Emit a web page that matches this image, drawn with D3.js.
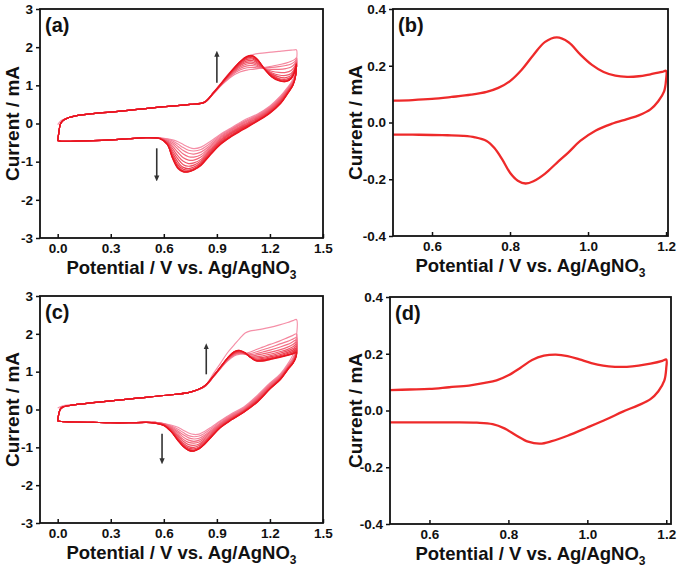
<!DOCTYPE html>
<html>
<head>
<meta charset="utf-8">
<script src="https://cdn.jsdelivr.net/npm/d3@7"></script>
<style>
  html, body { margin: 0; padding: 0; background: #fff; }
  svg { display: block; }
  text { font-family: "Liberation Sans", Arial, sans-serif; font-weight: bold; fill: #111; }
</style>
</head>
<body>
<svg id="chart" width="678" height="569"></svg>
<script>
// ---------------- DATA ----------------
// Panel (a): multi-cycle CV
const aTicksX = [0.0, 0.3, 0.6, 0.9, 1.2, 1.5];
const aTicksY = [-3, -2, -1, 0, 1, 2, 3];
const aUpperBase = [[0.0,-0.46],[0.006,-0.25],[0.015,-0.02],[0.03,0.08],[0.06,0.15],[0.10,0.20],[0.20,0.26],[0.30,0.30],[0.45,0.37],[0.60,0.44],[0.75,0.50]];
const aFirstStart = [[0.0,-0.03],[0.02,0.08],[0.06,0.15]];
const aLowerBase = [[0.50,-0.37],[0.40,-0.40],[0.30,-0.43],[0.20,-0.45],[0.10,-0.46],[0.04,-0.47],[0.01,-0.46],[0.0,-0.44]];
const aFwdX = [0.83, 0.88, 0.93, 0.98, 1.03, 1.07, 1.10, 1.13, 1.17, 1.21, 1.25, 1.29, 1.32, 1.34, 1.35];
const aFwdY = [
  [0.56, 0.82, 1.10, 1.38, 1.60, 1.74, 1.80, 1.83, 1.85, 1.87, 1.89, 1.91, 1.92, 1.93, 1.93],
  [0.55, 0.78, 1.02, 1.22, 1.35, 1.40, 1.42, 1.44, 1.47, 1.50, 1.54, 1.58, 1.63, 1.68, 1.72],
  [0.55, 0.78, 1.03, 1.25, 1.40, 1.46, 1.47, 1.46, 1.46, 1.47, 1.49, 1.52, 1.56, 1.62, 1.68],
  [0.55, 0.79, 1.04, 1.27, 1.44, 1.51, 1.52, 1.49, 1.44, 1.42, 1.42, 1.44, 1.48, 1.56, 1.64],
  [0.55, 0.79, 1.05, 1.29, 1.48, 1.56, 1.57, 1.52, 1.43, 1.37, 1.34, 1.34, 1.39, 1.50, 1.61],
  [0.55, 0.79, 1.05, 1.30, 1.51, 1.60, 1.61, 1.55, 1.43, 1.33, 1.27, 1.26, 1.31, 1.45, 1.59],
  [0.56, 0.80, 1.06, 1.32, 1.54, 1.64, 1.65, 1.58, 1.43, 1.30, 1.22, 1.20, 1.26, 1.42, 1.58],
  [0.56, 0.80, 1.06, 1.33, 1.56, 1.68, 1.69, 1.61, 1.43, 1.28, 1.18, 1.16, 1.22, 1.40, 1.57],
  [0.56, 0.80, 1.07, 1.34, 1.58, 1.71, 1.72, 1.64, 1.43, 1.26, 1.16, 1.13, 1.20, 1.38, 1.56],
  [0.56, 0.80, 1.07, 1.35, 1.60, 1.73, 1.75, 1.66, 1.43, 1.24, 1.14, 1.11, 1.18, 1.37, 1.56],
  [0.56, 0.80, 1.08, 1.36, 1.61, 1.75, 1.77, 1.67, 1.42, 1.23, 1.13, 1.10, 1.18, 1.36, 1.55],
  [0.56, 0.80, 1.08, 1.36, 1.62, 1.76, 1.78, 1.68, 1.42, 1.22, 1.12, 1.10, 1.18, 1.35, 1.55]
];
const aRevX = [1.35, 1.345, 1.33, 1.30, 1.26, 1.20, 1.13, 1.05, 0.98, 0.92, 0.86, 0.81, 0.77, 0.74, 0.71, 0.68, 0.65, 0.62, 0.58];
const aRevY = [
  [1.93, 1.45, 1.15, 0.95, 0.72, 0.46, 0.25, 0.08, -0.12, -0.28, -0.48, -0.62, -0.66, -0.62, -0.55, -0.48, -0.43, -0.40, -0.38],
  [1.72, 1.35, 1.12, 0.93, 0.70, 0.44, 0.23, 0.05, -0.14, -0.31, -0.53, -0.68, -0.72, -0.70, -0.63, -0.54, -0.46, -0.41, -0.38],
  [1.68, 1.32, 1.10, 0.91, 0.68, 0.42, 0.21, 0.03, -0.16, -0.34, -0.58, -0.75, -0.80, -0.78, -0.71, -0.60, -0.50, -0.43, -0.38],
  [1.64, 1.30, 1.08, 0.89, 0.66, 0.40, 0.19, 0.01, -0.18, -0.37, -0.62, -0.82, -0.88, -0.87, -0.80, -0.67, -0.54, -0.45, -0.39],
  [1.61, 1.29, 1.06, 0.87, 0.64, 0.38, 0.17, -0.02, -0.21, -0.40, -0.66, -0.88, -0.96, -0.96, -0.90, -0.76, -0.60, -0.47, -0.39],
  [1.59, 1.28, 1.05, 0.85, 0.62, 0.36, 0.15, -0.04, -0.23, -0.43, -0.70, -0.94, -1.03, -1.05, -0.99, -0.85, -0.66, -0.49, -0.39],
  [1.58, 1.27, 1.04, 0.84, 0.60, 0.34, 0.13, -0.06, -0.25, -0.45, -0.73, -0.98, -1.09, -1.12, -1.08, -0.93, -0.72, -0.51, -0.39],
  [1.57, 1.26, 1.03, 0.82, 0.58, 0.32, 0.11, -0.08, -0.27, -0.48, -0.76, -1.02, -1.14, -1.18, -1.15, -1.01, -0.78, -0.52, -0.40],
  [1.56, 1.26, 1.02, 0.81, 0.56, 0.30, 0.09, -0.10, -0.30, -0.50, -0.79, -1.05, -1.18, -1.22, -1.20, -1.08, -0.84, -0.54, -0.40],
  [1.56, 1.25, 1.01, 0.80, 0.54, 0.29, 0.08, -0.12, -0.32, -0.52, -0.81, -1.07, -1.20, -1.25, -1.24, -1.13, -0.88, -0.55, -0.40],
  [1.55, 1.25, 1.00, 0.79, 0.53, 0.28, 0.07, -0.14, -0.34, -0.54, -0.83, -1.09, -1.21, -1.26, -1.26, -1.16, -0.91, -0.55, -0.40],
  [1.55, 1.25, 1.00, 0.78, 0.52, 0.27, 0.06, -0.16, -0.35, -0.55, -0.84, -1.10, -1.22, -1.27, -1.27, -1.18, -0.92, -0.55, -0.40]
];
const aArrows = [[0.90, 1.07, 1.83], [0.56, -0.65, -1.44]];

// Panel (c): multi-cycle CV
const cTicksX = [0.0, 0.3, 0.6, 0.9, 1.2, 1.5];
const cTicksY = [-3, -2, -1, 0, 1, 2, 3];
const cUpperBase = [[0.0,-0.30],[0.006,-0.12],[0.015,0.01],[0.03,0.07],[0.06,0.10],[0.10,0.13],[0.20,0.18],[0.30,0.23],[0.45,0.30],[0.60,0.37],[0.75,0.46]];
const cFirstStart = [[0.0,0.04],[0.03,0.10],[0.06,0.12]];
const cLowerBase = [[0.50,-0.34],[0.40,-0.35],[0.30,-0.35],[0.20,-0.34],[0.10,-0.33],[0.04,-0.32],[0.01,-0.31],[0.0,-0.30]];
const cFwdX = [0.83, 0.88, 0.92, 0.96, 1.00, 1.03, 1.06, 1.09, 1.12, 1.16, 1.20, 1.25, 1.30, 1.33, 1.35];
const cFwdY = [
  [0.62, 0.95, 1.22, 1.50, 1.72, 1.88, 2.02, 2.08, 2.10, 2.13, 2.17, 2.23, 2.30, 2.35, 2.38],
  [0.60, 0.86, 1.08, 1.28, 1.42, 1.46, 1.48, 1.52, 1.58, 1.65, 1.72, 1.80, 1.90, 1.96, 2.00],
  [0.60, 0.86, 1.09, 1.30, 1.44, 1.48, 1.47, 1.48, 1.52, 1.58, 1.64, 1.72, 1.80, 1.86, 1.90],
  [0.61, 0.87, 1.09, 1.31, 1.46, 1.49, 1.47, 1.45, 1.47, 1.52, 1.57, 1.64, 1.72, 1.79, 1.84],
  [0.61, 0.87, 1.10, 1.32, 1.47, 1.50, 1.47, 1.42, 1.43, 1.47, 1.51, 1.57, 1.65, 1.72, 1.78],
  [0.61, 0.87, 1.10, 1.33, 1.48, 1.51, 1.47, 1.40, 1.39, 1.42, 1.46, 1.52, 1.59, 1.66, 1.72],
  [0.61, 0.87, 1.11, 1.34, 1.49, 1.52, 1.48, 1.39, 1.36, 1.38, 1.42, 1.48, 1.55, 1.61, 1.67],
  [0.62, 0.88, 1.11, 1.34, 1.50, 1.53, 1.48, 1.38, 1.33, 1.35, 1.39, 1.44, 1.51, 1.57, 1.62],
  [0.62, 0.88, 1.11, 1.35, 1.51, 1.54, 1.49, 1.38, 1.31, 1.32, 1.36, 1.41, 1.48, 1.53, 1.58],
  [0.62, 0.88, 1.12, 1.35, 1.52, 1.55, 1.49, 1.38, 1.30, 1.30, 1.34, 1.39, 1.45, 1.50, 1.55],
  [0.62, 0.88, 1.12, 1.36, 1.53, 1.56, 1.50, 1.38, 1.29, 1.29, 1.33, 1.38, 1.44, 1.48, 1.52],
  [0.62, 0.88, 1.12, 1.36, 1.53, 1.56, 1.50, 1.38, 1.29, 1.28, 1.32, 1.37, 1.43, 1.47, 1.50]
];
const cRevX = [1.35, 1.345, 1.33, 1.30, 1.26, 1.20, 1.13, 1.05, 0.98, 0.92, 0.87, 0.83, 0.80, 0.77, 0.74, 0.71, 0.68, 0.64, 0.60, 0.55];
const cRevY = [
  [2.38, 1.75, 1.45, 1.20, 0.95, 0.70, 0.38, 0.06, -0.12, -0.30, -0.46, -0.58, -0.65, -0.66, -0.62, -0.55, -0.47, -0.41, -0.37, -0.34],
  [2.00, 1.55, 1.36, 1.16, 0.92, 0.68, 0.36, 0.04, -0.14, -0.32, -0.50, -0.63, -0.70, -0.72, -0.69, -0.61, -0.52, -0.43, -0.37, -0.34],
  [1.90, 1.50, 1.33, 1.14, 0.90, 0.66, 0.34, 0.02, -0.16, -0.35, -0.54, -0.68, -0.76, -0.78, -0.75, -0.67, -0.57, -0.45, -0.38, -0.34],
  [1.84, 1.47, 1.31, 1.12, 0.88, 0.64, 0.32, 0.00, -0.18, -0.37, -0.57, -0.72, -0.81, -0.84, -0.81, -0.73, -0.61, -0.47, -0.38, -0.34],
  [1.78, 1.45, 1.29, 1.11, 0.87, 0.62, 0.30, -0.02, -0.20, -0.39, -0.60, -0.76, -0.86, -0.89, -0.87, -0.79, -0.66, -0.49, -0.39, -0.34],
  [1.72, 1.42, 1.27, 1.10, 0.85, 0.60, 0.28, -0.03, -0.22, -0.41, -0.63, -0.80, -0.91, -0.95, -0.93, -0.84, -0.70, -0.51, -0.40, -0.35],
  [1.67, 1.40, 1.26, 1.09, 0.84, 0.58, 0.26, -0.04, -0.23, -0.43, -0.66, -0.84, -0.95, -1.00, -0.98, -0.89, -0.74, -0.53, -0.40, -0.35],
  [1.62, 1.39, 1.25, 1.08, 0.83, 0.57, 0.24, -0.05, -0.25, -0.45, -0.68, -0.87, -0.99, -1.04, -1.02, -0.93, -0.77, -0.55, -0.41, -0.35],
  [1.58, 1.38, 1.24, 1.07, 0.82, 0.56, 0.23, -0.06, -0.26, -0.46, -0.70, -0.89, -1.01, -1.07, -1.05, -0.95, -0.79, -0.56, -0.41, -0.36],
  [1.55, 1.37, 1.23, 1.06, 0.81, 0.55, 0.22, -0.07, -0.27, -0.47, -0.71, -0.91, -1.03, -1.09, -1.07, -0.97, -0.81, -0.57, -0.42, -0.36],
  [1.52, 1.36, 1.22, 1.05, 0.80, 0.55, 0.21, -0.08, -0.28, -0.48, -0.72, -0.92, -1.04, -1.10, -1.08, -0.98, -0.82, -0.58, -0.42, -0.36],
  [1.50, 1.35, 1.22, 1.05, 0.80, 0.54, 0.20, -0.08, -0.28, -0.48, -0.72, -0.92, -1.04, -1.10, -1.08, -0.98, -0.82, -0.58, -0.42, -0.36]
];
const cArrows = [[0.84, 0.93, 1.67], [0.59, -0.64, -1.37]];

// Panel (b): single CV
const bTicksX = [0.6, 0.8, 1.0, 1.2];
const bTicksY = [-0.4, -0.2, 0.0, 0.2, 0.4];
const bForward = [[0.50,0.077],[0.55,0.079],[0.60,0.083],[0.65,0.090],[0.70,0.098],[0.74,0.108],[0.77,0.122],[0.80,0.146],[0.83,0.186],[0.86,0.238],[0.89,0.284],[0.92,0.300],[0.95,0.283],[0.98,0.240],[1.01,0.203],[1.04,0.178],[1.07,0.165],[1.10,0.161],[1.13,0.163],[1.16,0.170],[1.19,0.178],[1.20,0.182]];
const bReverse = [[1.20,0.150],[1.195,0.110],[1.18,0.075],[1.16,0.046],[1.13,0.025],[1.10,0.012],[1.06,-0.005],[1.02,-0.028],[0.98,-0.065],[0.95,-0.105],[0.92,-0.142],[0.89,-0.180],[0.86,-0.207],[0.84,-0.215],[0.82,-0.205],[0.80,-0.177],[0.78,-0.130],[0.76,-0.090],[0.74,-0.065],[0.71,-0.052],[0.68,-0.047],[0.64,-0.045],[0.60,-0.044],[0.55,-0.043],[0.50,-0.043]];

// Panel (d): single CV
const dTicksX = [0.6, 0.8, 1.0, 1.2];
const dTicksY = [-0.4, -0.2, 0.0, 0.2, 0.4];
const dForward = [[0.50,0.072],[0.55,0.074],[0.60,0.076],[0.65,0.082],[0.70,0.088],[0.74,0.097],[0.77,0.106],[0.80,0.124],[0.83,0.150],[0.86,0.178],[0.89,0.193],[0.92,0.197],[0.95,0.192],[0.98,0.180],[1.01,0.167],[1.04,0.158],[1.07,0.154],[1.10,0.154],[1.13,0.158],[1.16,0.165],[1.19,0.175],[1.20,0.180]];
const dReverse = [[1.20,0.150],[1.195,0.105],[1.18,0.068],[1.16,0.040],[1.13,0.019],[1.09,-0.004],[1.05,-0.030],[1.00,-0.060],[0.95,-0.089],[0.91,-0.108],[0.88,-0.117],[0.85,-0.110],[0.82,-0.088],[0.79,-0.063],[0.76,-0.048],[0.72,-0.043],[0.66,-0.042],[0.60,-0.042],[0.55,-0.042],[0.50,-0.042]];

const panelLabels = ["(a)", "(b)", "(c)", "(d)"];
const xTitle = "Potential / V vs. Ag/AgNO";
const xTitleSub = "3";
const yTitle = "Current / mA";

// ---------------- DRAWING ----------------
const svg = d3.select("#chart");
const defs = svg.append("defs");
defs.append("marker").attr("id", "arrowhead")
  .attr("viewBox", "0 0 8 8").attr("refX", 4).attr("refY", 4)
  .attr("markerWidth", 6).attr("markerHeight", 7)
  .attr("markerUnits", "userSpaceOnUse").attr("orient", "auto")
  .append("path").attr("d", "M0,0.5 L8,4 L0,7.5 Z").attr("fill", "#333");

function makePanel(cfg) {
  const x = d3.scaleLinear().domain(cfg.xDomain).range(cfg.xRange);
  const y = d3.scaleLinear().domain(cfg.yDomain).range(cfg.yRange);
  const g = svg.append("g");
  const clipId = "clip" + cfg.label.replace(/\W/g, "");
  defs.append("clipPath").attr("id", clipId).append("rect")
    .attr("x", cfg.xRange[0]).attr("y", cfg.yRange[1])
    .attr("width", cfg.xRange[1] - cfg.xRange[0]).attr("height", cfg.yRange[0] - cfg.yRange[1]);

  // axes
  const xAxis = d3.axisBottom(x).tickValues(cfg.xTicks).tickSizeInner(-4).tickSizeOuter(0)
    .tickPadding(5).tickFormat(d => d.toFixed(1));
  const yAxis = d3.axisLeft(y).tickValues(cfg.yTicks).tickSizeInner(4).tickSizeOuter(0)
    .tickPadding(3).tickFormat(d => d.toFixed(cfg.yDec));
  const gx = g.append("g").attr("transform", `translate(0,${cfg.yRange[0]})`).call(xAxis);
  const gy = g.append("g").attr("transform", `translate(${cfg.xRange[0]},0)`).call(yAxis);
  [gx, gy].forEach(a => {
    a.select(".domain").remove();
    a.selectAll(".tick line").attr("stroke", "#111").attr("stroke-width", 1.5);
    a.selectAll(".tick text").attr("font-size", 13.5).attr("font-family", "Liberation Sans, Arial, sans-serif")
      .attr("font-weight", "bold").attr("fill", "#111");
  });

  const plot = g.append("g").attr("clip-path", `url(#${clipId})`);
  const line = d3.line().x(d => x(d[0])).y(d => y(d[1])).curve(d3.curveCatmullRom.alpha(0.5));

  if (cfg.cycles) {
    const n = cfg.cycles.length;
    const col = d3.scaleLinear().domain([0, n - 1]).range(["#f590a8", "#e9141f"]).interpolate(d3.interpolateRgb);
    cfg.cycles.forEach((pts, i) => {
      plot.append("path").attr("d", line(pts)).attr("fill", "none")
        .attr("stroke", col(i)).attr("stroke-width", 1.2);
    });
  }
  if (cfg.loop) {
    plot.append("path").attr("d", line(cfg.loop)).attr("fill", "none")
      .attr("stroke", "#ee2a2a").attr("stroke-width", 2.3).attr("stroke-linejoin", "round");
  }
  if (cfg.arrows) {
    cfg.arrows.forEach(a => {
      g.append("line").attr("x1", x(a[0])).attr("x2", x(a[0]))
        .attr("y1", y(a[1])).attr("y2", y(a[2]))
        .attr("stroke", "#333").attr("stroke-width", 1.6)
        .attr("marker-end", "url(#arrowhead)");
    });
  }

  // frame
  g.append("rect").attr("x", cfg.xRange[0]).attr("y", cfg.yRange[1])
    .attr("width", cfg.xRange[1] - cfg.xRange[0]).attr("height", cfg.yRange[0] - cfg.yRange[1])
    .attr("fill", "none").attr("stroke", "#111").attr("stroke-width", 1.8);

  // panel label
  g.append("text").attr("x", cfg.xRange[0] + 5).attr("y", cfg.yRange[1] + 23)
    .attr("font-size", 20).text(cfg.label);

  // axis titles
  const cx = (cfg.xRange[0] + cfg.xRange[1]) / 2;
  const xt = g.append("text").attr("x", cx).attr("y", cfg.yRange[0] + 36)
    .attr("text-anchor", "middle").attr("font-size", 18.5);
  xt.append("tspan").text(xTitle);
  xt.append("tspan").attr("font-size", 12).attr("dy", 5).text(xTitleSub);
  const cy = (cfg.yRange[0] + cfg.yRange[1]) / 2;
  g.append("text").attr("transform", `translate(${cfg.yTitleX},${cy}) rotate(-90)`)
    .attr("text-anchor", "middle").attr("font-size", 19).text(yTitle);
}

function buildCycles(upper, firstStart, fwdX, fwdY, revX, revY, lower) {
  return fwdY.map((fy, i) => {
    const start = i === 0 ? firstStart.concat(upper.filter(p => p[0] >= 0.1)) : upper.slice();
    const fwd = fwdX.map((xv, j) => [xv, fy[j]]);
    const rev = revX.map((xv, j) => [xv, revY[i][j]]).slice(1);
    return start.concat(fwd, rev, lower);
  });
}

makePanel({
  label: panelLabels[0], xDomain: [-0.1, 1.5], xRange: [40, 323], yDomain: [-3, 3], yRange: [238, 9],
  xTicks: aTicksX, yTicks: aTicksY, yDec: 0, yTitleX: 19,
  cycles: buildCycles(aUpperBase, aFirstStart, aFwdX, aFwdY, aRevX, aRevY, aLowerBase),
  arrows: aArrows
});
makePanel({
  label: panelLabels[1], xDomain: [0.5, 1.205], xRange: [393, 668], yDomain: [-0.4, 0.4], yRange: [236, 9],
  xTicks: bTicksX, yTicks: bTicksY, yDec: 1, yTitleX: 362,
  loop: bForward.concat(bReverse)
});
makePanel({
  label: panelLabels[2], xDomain: [-0.1, 1.5], xRange: [40, 323], yDomain: [-3, 3], yRange: [523, 296],
  xTicks: cTicksX, yTicks: cTicksY, yDec: 0, yTitleX: 19,
  cycles: buildCycles(cUpperBase, cFirstStart, cFwdX, cFwdY, cRevX, cRevY, cLowerBase),
  arrows: cArrows
});
makePanel({
  label: panelLabels[3], xDomain: [0.5, 1.212], xRange: [390, 671], yDomain: [-0.4, 0.4], yRange: [524, 297],
  xTicks: dTicksX, yTicks: dTicksY, yDec: 1, yTitleX: 362,
  loop: dForward.concat(dReverse)
});
</script>
</body>
</html>
